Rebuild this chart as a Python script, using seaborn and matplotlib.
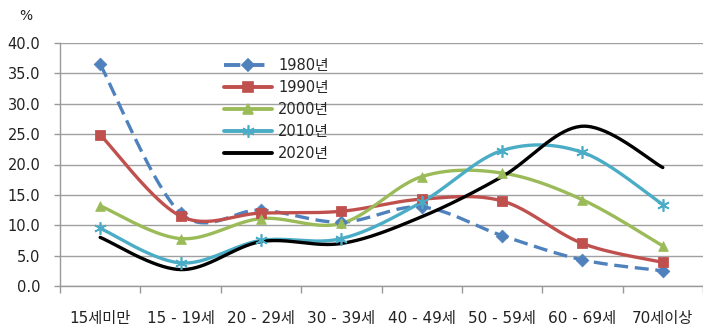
import numpy as np
import pandas as pd
import matplotlib
matplotlib.use("Agg")
import matplotlib.pyplot as plt
from matplotlib.lines import Line2D
import seaborn as sns

categories = ["15세미만", "15 - 19세", "20 - 29세", "30 - 39세", "40 - 49세",
              "50 - 59세", "60 - 69세", "70세이상"]
years = ["1980년", "1990년", "2000년", "2010년", "2020년"]
v1980 = [36.5, 12.0, 12.5, 10.5, 13.0, 8.3, 4.3, 2.5]
v1990 = [24.9, 11.5, 12.0, 12.3, 14.3, 14.0, 7.0, 3.9]
v2000 = [13.2, 7.8, 11.1, 10.3, 18.0, 18.6, 14.2, 6.6]
v2010 = [9.5, 3.8, 7.5, 7.8, 13.8, 22.3, 22.0, 13.4]
v2020 = [8.0, 2.7, 7.3, 7.0, 11.4, 18.0, 26.3, 19.5]
yticks = [0.0, 5.0, 10.0, 15.0, 20.0, 25.0, 30.0, 35.0, 40.0]

series = dict(zip(years, [v1980, v1990, v2000, v2010, v2020]))
colors = {"1980년": "#4F81BD", "1990년": "#C0504D", "2000년": "#9BBB59",
          "2010년": "#4BACC6", "2020년": "#000000"}
mk = {"1980년": ("D", 6.5), "1990년": ("s", 7), "2000년": ("^", 7),
      "2010년": ((6, 2, 0), 9), "2020년": (None, 0)}


def smooth(xs, ys, n=40):
    """Catmull-Rom style cubic Bezier smoothing through every point."""
    pts = np.column_stack([xs, ys]).astype(float)
    out = []
    m = len(pts)
    for i in range(m - 1):
        p0 = pts[i - 1] if i > 0 else pts[i]
        p1, p2 = pts[i], pts[i + 1]
        p3 = pts[i + 2] if i + 2 < m else pts[i + 1]
        c1 = p1 + (p2 - p0) / 6.0
        c2 = p2 - (p3 - p1) / 6.0
        t = np.linspace(0, 1, n, endpoint=(i == m - 2))[:, None]
        b = ((1 - t) ** 3) * p1 + 3 * ((1 - t) ** 2) * t * c1 \
            + 3 * (1 - t) * t ** 2 * c2 + t ** 3 * p2
        out.append(b)
    return np.vstack(out)


sns.set_theme(style="white")
fonts = ["DejaVu Sans", "Noto Sans CJK KR"]
plt.rcParams["font.family"] = fonts

fig = plt.figure(figsize=(7.03, 3.28), dpi=100)
ax = fig.add_axes([60 / 703, 1 - 286 / 328, 1 - 60 / 703, (286 - 43) / 328])

x = np.arange(len(categories))
rows = []
for yr, vals in series.items():
    curve = smooth(x, vals)
    rows.append(pd.DataFrame({"x": curve[:, 0], "y": curve[:, 1], "year": yr}))
curves = pd.concat(rows, ignore_index=True)
points = pd.DataFrame([(i, v, yr) for yr, vals in series.items()
                       for i, v in enumerate(vals)], columns=["x", "y", "year"])

handles = []
for yr in years:
    ls = (0, (4.2, 2.0)) if yr == "1980년" else "-"
    sns.lineplot(data=curves[curves.year == yr], x="x", y="y", ax=ax,
                 color=colors[yr], lw=2.4, linestyle=ls, sort=False,
                 estimator=None, legend=False, zorder=3)
    m, s = mk[yr]
    if m is not None:
        sub = points[points.year == yr]
        if yr == "2010년":
            ax.plot(sub.x, sub.y, linestyle="none", marker=m, markersize=s,
                    markeredgecolor=colors[yr], markeredgewidth=1.2, zorder=4)
        else:
            sns.scatterplot(data=sub, x="x", y="y", ax=ax, marker=m, s=s ** 2,
                            color=colors[yr], edgecolor=colors[yr],
                            legend=False, zorder=4)
    handles.append(Line2D([0], [0], color=colors[yr], lw=2.8, linestyle=ls,
                          marker=m if m is not None else None,
                          markersize=s, markeredgecolor=colors[yr],
                          markeredgewidth=1.2))

ax.set_xlim(-0.5, len(categories) - 0.5)
ax.set_ylim(0, 40)
ax.set_yticks(yticks)
ax.set_yticklabels([f"{v:.1f}" for v in yticks], fontsize=10.5,
                   color="#222222")
ax.set_xticks(x)
ax.set_xticklabels(categories, fontsize=11, color="#222222")
ax.set_xticks(np.arange(-0.5, len(categories) + 0.5, 1), minor=True)
ax.tick_params(axis="x", which="major", length=0, pad=18)
ax.tick_params(axis="x", which="minor", length=5, width=1, color="#999999",
               direction="out", bottom=True)
ax.tick_params(axis="y", which="major", length=4, width=1, color="#999999",
               direction="out", left=True, pad=10)
ax.set_xlabel("")
ax.set_ylabel("")
ax.grid(axis="y", color="#A0A0A0", lw=1)
ax.grid(axis="x", visible=False)
for side in ["top", "right"]:
    ax.spines[side].set_visible(False)
for side in ["left", "bottom"]:
    ax.spines[side].set_color("#999999")
    ax.spines[side].set_linewidth(1)

fig.text(26 / 703, 1 - 16 / 328, "%", fontsize=10, ha="center", va="center",
         color="#222222")

leg = ax.legend(handles, years, loc="upper left",
                bbox_to_anchor=(224 / 703, 1 - 58 / 328),
                bbox_transform=fig.transFigure, frameon=False, fontsize=10.5,
                handlelength=3.3, handletextpad=0.4, labelspacing=0.48,
                borderaxespad=0, borderpad=0)

fig.savefig("out.png", dpi=100)
